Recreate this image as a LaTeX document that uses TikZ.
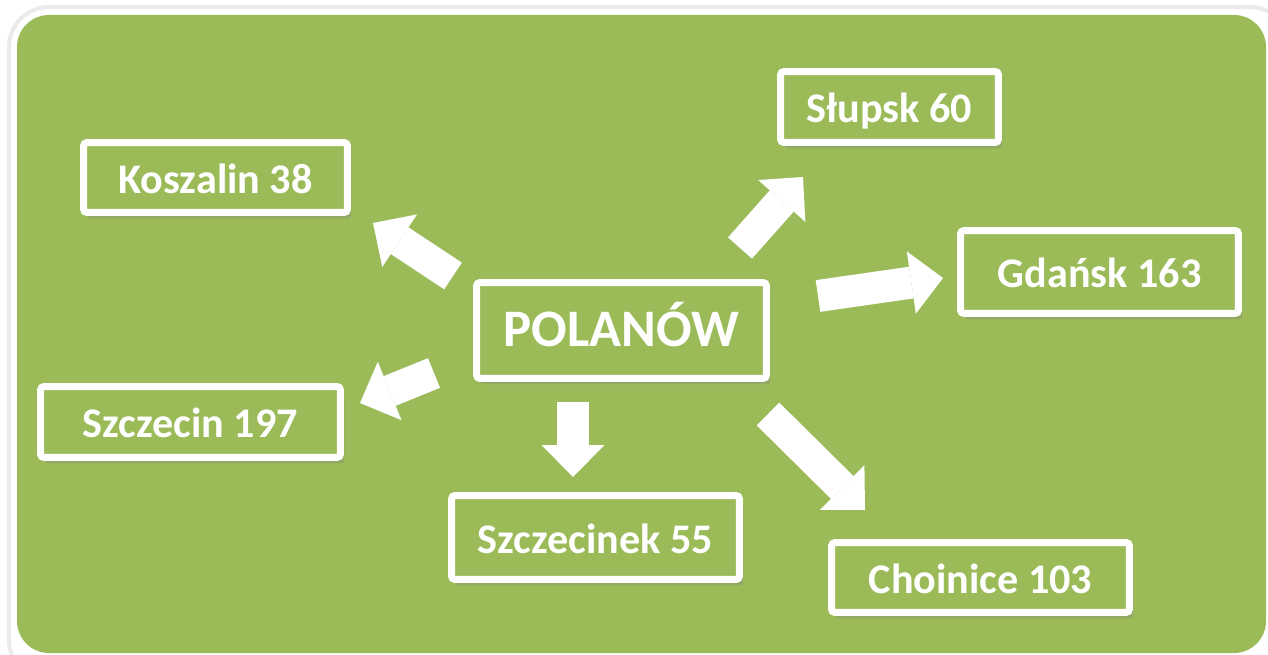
\documentclass[tikz,border=0pt]{standalone}
\usepackage{fontspec}
\setmainfont{Carlito}
\usepackage{tikz}
\usetikzlibrary{arrows.meta,positioning,shadows}
\definecolor{bggreen}{RGB}{155,187,89}

\begin{document}
\begin{tikzpicture}[x=0.02cm, y=-0.02cm,
    city/.style={draw=white, line width=0.14cm, rounded corners=2pt, fill=bggreen,
        text=white, font=\fontsize{24}{28}\selectfont\bfseries,
        text height=0.80cm, text depth=0.16cm,
        drop shadow={shadow xshift=0.08cm, shadow yshift=-0.12cm, opacity=0.3}},
    bigarrow/.style={white, line width=0.64cm,
        -{Triangle[length=0.64cm, width=1.26cm, line width=0pt]}}]
    \useasboundingbox (0,0) rectangle (1268,655);
    % background panel
    \fill[white] (0,0) rectangle (1268,655);
    \draw[black!8, line width=0.08cm, fill=white, rounded corners=0.8cm] (9,7) rectangle (1290,680);
    \fill[bggreen, rounded corners=0.64cm] (17,15) rectangle (1266,653);

    % boxes
    \node[city, minimum width=5.80cm, minimum height=1.92cm, font=\fontsize{30}{34}\selectfont\bfseries] (pol) at (621.5,330.5) {POLANÓW};
    \node[city, minimum width=5.28cm, minimum height=1.40cm] (kos) at (215.5,177.5) {Koszalin 38};
    \node[city, minimum width=4.36cm, minimum height=1.42cm] (slu) at (889.5,107) {Słupsk 60};
    \node[city, minimum width=5.56cm, minimum height=1.66cm] (gda) at (1099.5,272) {Gdańsk 163};
    \node[city, minimum width=6.00cm, minimum height=1.42cm] (szc) at (190.5,422) {Szczecin 197};
    \node[city, minimum width=5.76cm, minimum height=1.68cm] (szk) at (595.5,537.5) {Szczecinek 55};
    \node[city, minimum width=5.96cm, minimum height=1.40cm] (cho) at (980.5,577.5) {Choinice 103};

    % arrow ends
    \coordinate (kosA) at (453,276);  \coordinate (kosB) at (373,223);
    \coordinate (szcA) at (434,373);  \coordinate (szcB) at (360,403);
    \coordinate (szkA) at (573,402);  \coordinate (szkB) at (573,477);
    \coordinate (sluA) at (740,248);  \coordinate (sluB) at (803,177);
    \coordinate (gdaA) at (818,296);  \coordinate (gdaB) at (943,278);
    \coordinate (choA) at (768,414);  \coordinate (choB) at (865,510);

    \draw[bigarrow] (kosA) -- (kosB);
    \draw[bigarrow] (szcA) -- (szcB);
    \draw[bigarrow] (szkA) -- (szkB);
    \draw[bigarrow] (sluA) -- (sluB);
    \draw[bigarrow] (gdaA) -- (gdaB);
    \draw[bigarrow] (choA) -- (choB);
\end{tikzpicture}
\end{document}
